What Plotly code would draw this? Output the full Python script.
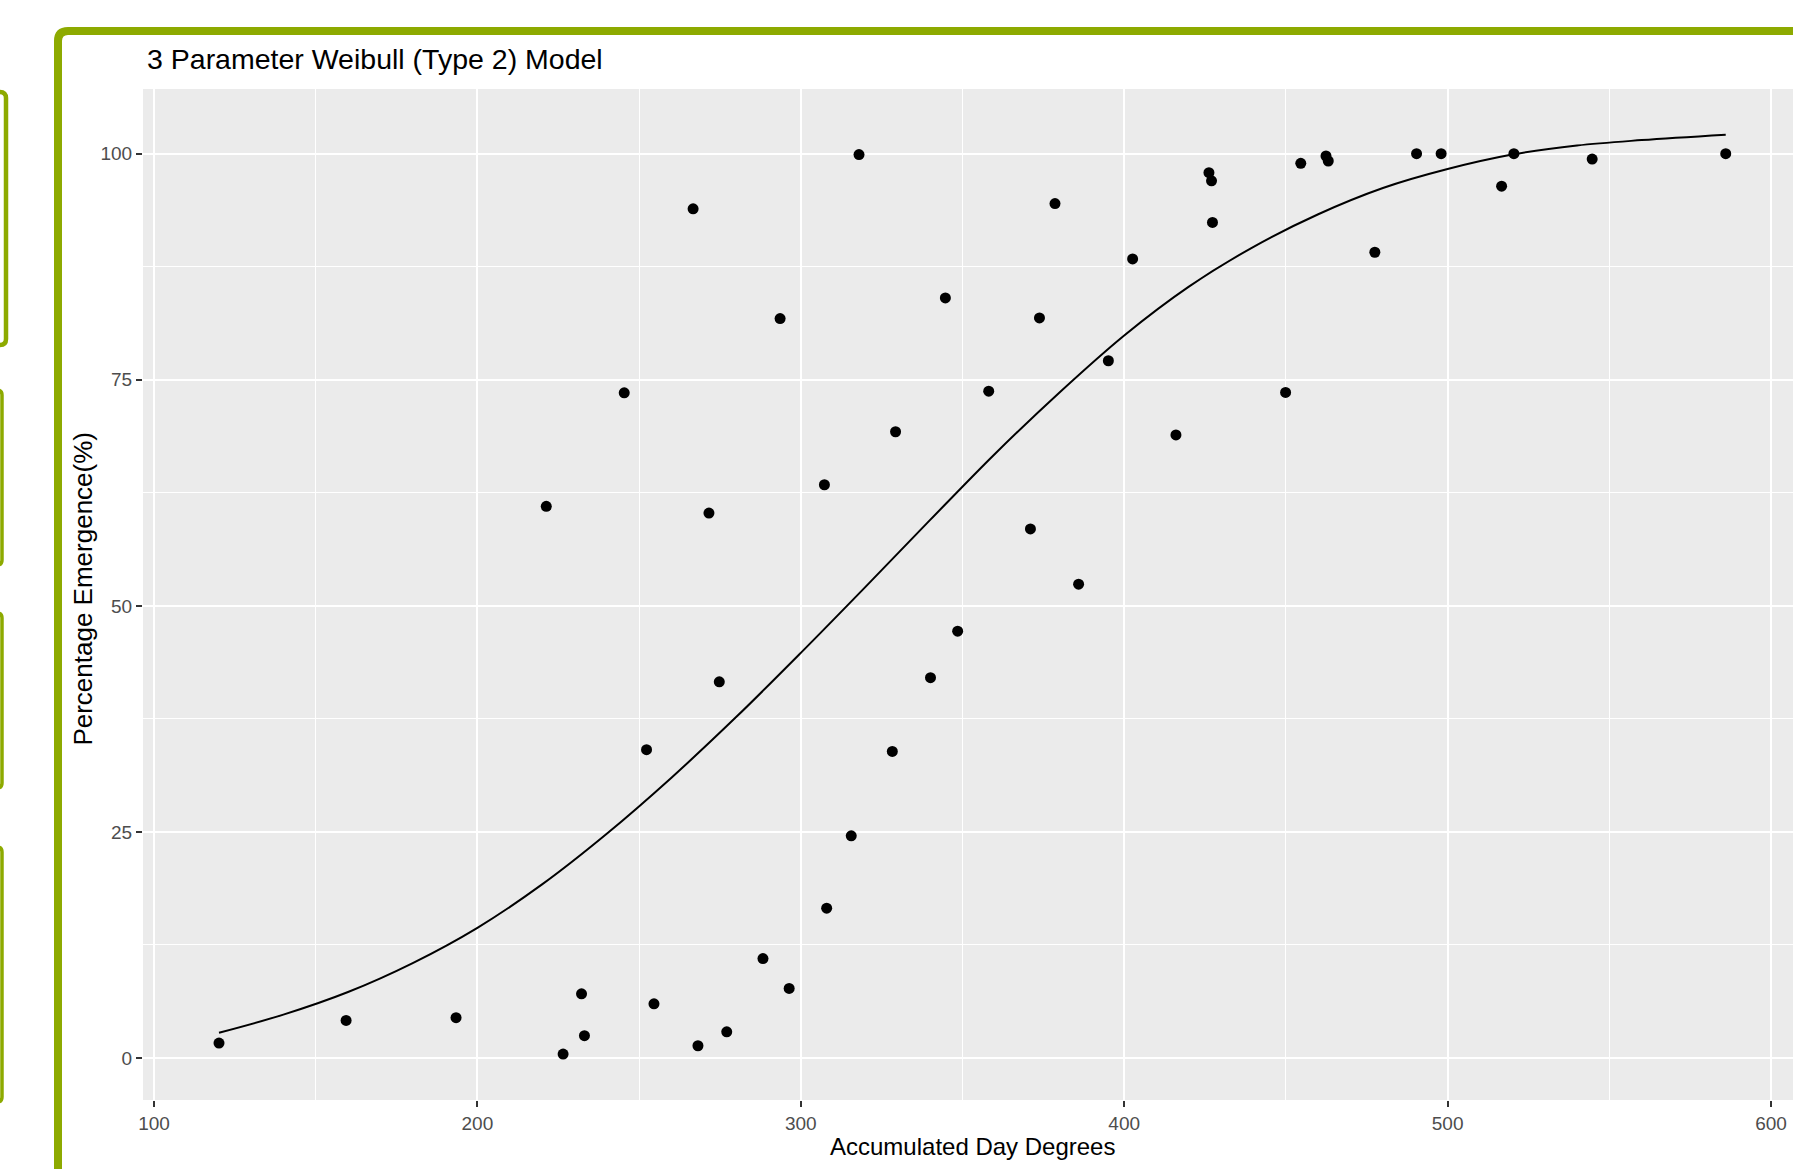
import plotly.graph_objects as go

# ---------------- data ----------------
day_degrees = [120.1, 159.4, 193.4, 221.3, 226.5, 232.2, 233.1, 245.4, 252.3, 254.6,
               266.7, 268.2, 271.6, 274.8, 277.1, 288.3, 293.6, 296.4, 307.3, 308.0,
               315.6, 318.0, 328.3, 329.3, 340.1, 344.7, 348.5, 358.1, 371.0, 373.8,
               378.6, 385.9, 395.1, 402.6, 416.0, 426.2, 427.0, 427.3, 449.9, 454.6,
               462.4, 463.1, 477.5, 490.4, 498.0, 516.7, 520.5, 544.7, 586.0]
emergence = [1.66, 4.16, 4.46, 61.0, 0.44, 7.1, 2.47, 73.55, 34.1, 6.0,
             93.9, 1.36, 60.26, 41.6, 2.9, 11.0, 81.77, 7.7, 63.39, 16.57,
             24.57, 99.9, 33.9, 69.25, 42.06, 84.05, 47.2, 73.74, 58.5, 81.84,
             94.48, 52.4, 77.1, 88.36, 68.9, 97.9, 97.0, 92.4, 73.6, 98.93,
             99.74, 99.19, 89.1, 100.0, 100.0, 96.4, 100.0, 99.4, 100.0]

# fitted model curve
curve_x = [120.1, 140, 160, 180, 200, 220, 240, 260, 280, 300, 320, 340,
           360, 380, 400, 420, 440, 460, 480, 500, 520, 540, 560, 586]
curve_y = [2.8, 4.8, 7.3, 10.5, 14.4, 19.2, 24.8, 31.0, 37.7, 44.8, 52.1, 59.5,
           66.8, 73.6, 79.9, 85.3, 89.7, 93.3, 96.2, 98.3, 99.9, 100.9, 101.5, 102.1]

x_ticks = [100, 200, 300, 400, 500, 600]
y_ticks = [0, 25, 50, 75, 100]

title_text = "3 Parameter Weibull (Type 2) Model"
x_title = "Accumulated Day Degrees"
y_title = "Percentage Emergence(%)"

# ---------------- layout geometry (pixels) ----------------
W, H = 1793, 1169
L, R, T, B = 143, 1793, 89, 1100
GREEN = "#8DAA00"
FONT = "Liberation Sans, Arial, Helvetica, sans-serif"


def px(x):
    return (x - L) / (R - L)


def py(y):
    return (B - y) / (B - T)


def rounded_path(x0, y0, x1, y1, r):
    pts = [
        ("M", x0 + r, y0), ("L", x1 - r, y0), ("Q", x1, y0, x1, y0 + r),
        ("L", x1, y1 - r), ("Q", x1, y1, x1 - r, y1), ("L", x0 + r, y1),
        ("Q", x0, y1, x0, y1 - r), ("L", x0, y0 + r), ("Q", x0, y0, x0 + r, y0),
    ]
    s = ""
    for p in pts:
        if p[0] == "Q":
            s += f"Q{px(p[1]):.6f},{py(p[2]):.6f} {px(p[3]):.6f},{py(p[4]):.6f} "
        else:
            s += f"{p[0]}{px(p[1]):.6f},{py(p[2]):.6f} "
    return s + "Z"


fig = go.Figure()

fig.add_trace(go.Scatter(
    x=day_degrees, y=emergence, mode="markers",
    marker=dict(color="black", size=11, line=dict(width=0)),
    showlegend=False, hoverinfo="x+y"))

fig.add_trace(go.Scatter(
    x=curve_x, y=curve_y, mode="lines",
    line=dict(color="black", width=2, shape="spline", smoothing=1.0),
    showlegend=False, hoverinfo="skip"))

shapes = [
    dict(type="path", xref="paper", yref="paper",
         path=rounded_path(58, 31, 1900, 1300, 10),
         line=dict(color=GREEN, width=8), fillcolor="rgba(0,0,0,0)", layer="above"),
    dict(type="path", xref="paper", yref="paper",
         path=rounded_path(-40, 92, 6, 345, 6),
         line=dict(color=GREEN, width=4.5), fillcolor="rgba(0,0,0,0)", layer="above"),
    dict(type="path", xref="paper", yref="paper",
         path=rounded_path(-40, 390, 2, 565, 5),
         line=dict(color=GREEN, width=3.5), fillcolor="rgba(0,0,0,0)", layer="above"),
    dict(type="path", xref="paper", yref="paper",
         path=rounded_path(-40, 613, 2, 788, 5),
         line=dict(color=GREEN, width=3.5), fillcolor="rgba(0,0,0,0)", layer="above"),
    dict(type="path", xref="paper", yref="paper",
         path=rounded_path(-40, 847, 2, 1102, 5),
         line=dict(color=GREEN, width=3.5), fillcolor="rgba(0,0,0,0)", layer="above"),
]

annotations = [
    dict(text=title_text, xref="paper", yref="paper", x=px(145), y=py(58.8),
         xanchor="left", yanchor="middle", showarrow=False,
         font=dict(family=FONT, size=28.5, color="black")),
    dict(text=x_title, xref="paper", yref="paper", x=px(972.9), y=py(1146.5),
         xanchor="center", yanchor="middle", showarrow=False,
         font=dict(family=FONT, size=24, color="black")),
    dict(text=y_title, xref="paper", yref="paper", x=px(82.6), y=py(589),
         xanchor="center", yanchor="middle", showarrow=False, textangle=-90,
         font=dict(family=FONT, size=26, color="black")),
]

fig.update_layout(
    width=W, height=H,
    margin=dict(l=L, r=W - R, t=T, b=H - B, pad=0),
    paper_bgcolor="white", plot_bgcolor="#EBEBEB",
    shapes=shapes, annotations=annotations,
    font=dict(family=FONT),
    xaxis=dict(
        range=[96.6, 606.8], tickmode="array", tickvals=x_ticks,
        ticktext=[str(v) for v in x_ticks],
        showgrid=True, gridcolor="white", gridwidth=2,
        minor=dict(dtick=50, tick0=0, showgrid=True, gridcolor="white", gridwidth=1, ticks=""),
        ticks="outside", ticklen=6, tickwidth=2, tickcolor="#333333",
        tickfont=dict(family=FONT, size=19, color="#4D4D4D"),
        zeroline=False, showline=False, fixedrange=True,
    ),
    yaxis=dict(
        range=[-4.64, 107.15], tickmode="array", tickvals=y_ticks,
        ticktext=[str(v) for v in y_ticks],
        showgrid=True, gridcolor="white", gridwidth=2,
        minor=dict(dtick=12.5, tick0=0, showgrid=True, gridcolor="white", gridwidth=1, ticks=""),
        ticks="outside", ticklen=6, tickwidth=2, tickcolor="#333333",
        tickfont=dict(family=FONT, size=19, color="#4D4D4D"),
        zeroline=False, showline=False, fixedrange=True,
    ),
)

fig.write_html(
    "out.html",
    config={"displayModeBar": False},
    post_script="document.body.style.margin='0';document.body.style.overflow='hidden';",
)
